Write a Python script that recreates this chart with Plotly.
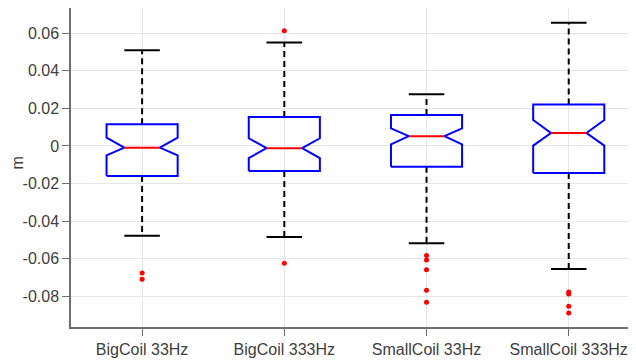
import plotly.graph_objects as go

categories = ["BigCoil 33Hz", "BigCoil 333Hz", "SmallCoil 33Hz", "SmallCoil 333Hz"]
q1 = [-0.0160, -0.0133, -0.0110, -0.0144]
median = [-0.0009, -0.0012, 0.0052, 0.0069]
q3 = [0.0115, 0.0154, 0.0165, 0.0220]
notch_lo = [-0.0050, -0.0064, 0.0009, 0.0002]
notch_hi = [0.0044, 0.0041, 0.0094, 0.0138]
whisker_lo = [-0.0477, -0.0484, -0.0518, -0.0654]
whisker_hi = [0.0509, 0.0551, 0.0275, 0.0656]
outliers = [
    [-0.0676, -0.0709],
    [0.0613, -0.0624],
    [-0.0582, -0.0606, -0.0658, -0.0768, -0.0832],
    [-0.0777, -0.0787, -0.0853, -0.0888],
]
yticks = [-0.08, -0.06, -0.04, -0.02, 0, 0.02, 0.04, 0.06]
yticklabels = ["-0.08", "-0.06", "-0.04", "-0.02", "0", "0.02", "0.04", "0.06"]
ylabel = "m"

HW = 0.25  # box half width
FONT = "Liberation Sans, Arial, sans-serif"
fig = go.Figure()

for i, cat in enumerate(categories):
    x = i + 1
    fig.add_trace(go.Scatter(
        x=[x, x, None, x, x],
        y=[q3[i], whisker_hi[i], None, q1[i], whisker_lo[i]],
        mode="lines", line=dict(color="black", width=2, dash="6px,4px"),
        hoverinfo="skip", showlegend=False))
    fig.add_trace(go.Scatter(
        x=[x - HW / 2, x + HW / 2, None, x - HW / 2, x + HW / 2],
        y=[whisker_hi[i], whisker_hi[i], None, whisker_lo[i], whisker_lo[i]],
        mode="lines", line=dict(color="black", width=2),
        hoverinfo="skip", showlegend=False))
    bx = [x - HW, x - HW, x - HW / 2, x - HW, x - HW, x + HW, x + HW, x + HW / 2, x + HW, x + HW, x - HW]
    by = [q1[i], notch_lo[i], median[i], notch_hi[i], q3[i], q3[i], notch_hi[i], median[i], notch_lo[i], q1[i], q1[i]]
    fig.add_trace(go.Scatter(
        x=bx, y=by, mode="lines", line=dict(color="#0000ff", width=2),
        hoverinfo="skip", showlegend=False))
    fig.add_trace(go.Scatter(
        x=[x - HW / 2, x + HW / 2], y=[median[i], median[i]],
        mode="lines", line=dict(color="#ff0000", width=2),
        hoverinfo="skip", showlegend=False))
    fig.add_trace(go.Scatter(
        x=[x] * len(outliers[i]), y=outliers[i], mode="markers",
        marker=dict(color="#ff0000", size=5),
        hoverinfo="skip", showlegend=False))

axis_common = dict(
    showline=True, linecolor="#6e6e6e", linewidth=1.5, mirror=False,
    showgrid=True, gridcolor="#e6e6e6", gridwidth=1, automargin=False,
    zeroline=False, ticks="outside", ticklen=7, tickwidth=1.2, tickcolor="#6e6e6e",
    tickfont=dict(family=FONT, size=16, color="#404040"),
)

fig.update_layout(
    width=628, height=354,
    margin=dict(l=63, r=0, t=0, b=35, autoexpand=False),
    paper_bgcolor="white", plot_bgcolor="white",
    xaxis=dict(range=[0.5, 4.473], tickmode="array", tickvals=[1, 2, 3, 4],
               ticktext=categories, **axis_common),
    yaxis=dict(range=[-0.0963, 0.0734], tickmode="array", tickvals=yticks,
               ticktext=yticklabels, **axis_common),
    annotations=[dict(text=ylabel, xref="paper", yref="paper", x=-63 / 565, y=0.514,
                      textangle=-90, showarrow=False, xanchor="left", yanchor="middle",
                      borderpad=0,
                      font=dict(family=FONT, size=16, color="#404040"))],
)

fig.write_html("out.html")
